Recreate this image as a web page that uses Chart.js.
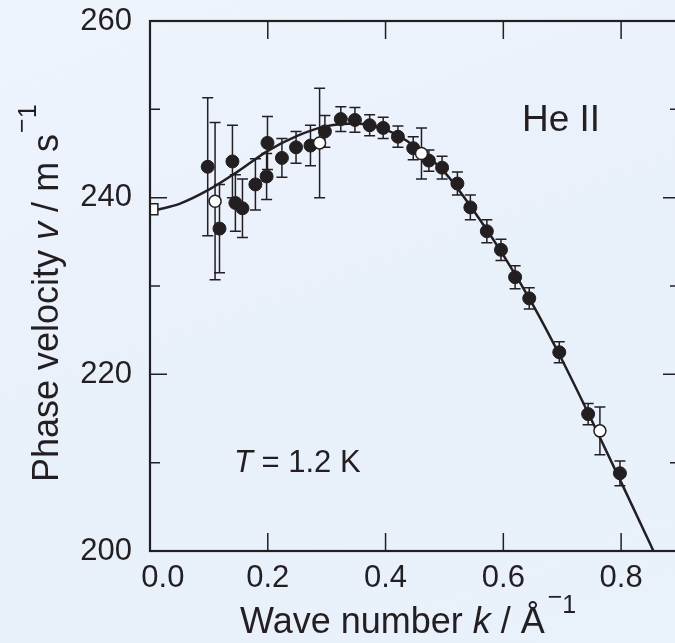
<!DOCTYPE html>
<html>
<head>
<meta charset="utf-8">
<script src="https://cdn.jsdelivr.net/npm/chart.js@4.4.1/dist/chart.umd.min.js"></script>
<style>
    html, body { margin: 0; padding: 0; overflow: hidden; }
    body {
        width: 675px;
        height: 643px;
        background: linear-gradient(160deg, #eef4fc 0%, #e8f0fa 55%, #e9f1fb 100%);
    }
    #wrap { position: absolute; left: 0; top: 0; width: 690px; height: 643px; }
</style>
</head>
<body>
<div id="wrap"><canvas id="myChart" width="690" height="643"></canvas></div>
<script>
'use strict'

// measured points (filled circles)
const filledK = [0.098, 0.118, 0.140, 0.145, 0.157, 0.179, 0.1995, 0.198, 0.224, 0.248, 0.2725, 0.297,
    0.324, 0.348, 0.373, 0.396, 0.421, 0.447, 0.4736, 0.496, 0.522, 0.544, 0.572, 0.596, 0.620, 0.644,
    0.695, 0.744, 0.798];
const filledV = [243.5, 236.5, 244.1, 239.4, 238.8, 241.5, 246.2, 242.4, 244.5, 245.7, 245.9, 247.5,
    248.9, 248.8, 248.2, 247.9, 246.9, 245.6, 244.2, 243.4, 241.6, 238.9, 236.2, 234.1, 231.0, 228.6,
    222.5, 215.5, 208.8];
const filledErr = [7.8, 5.0, 4.1, 3.2, 3.3, 2.9, 3.0, 2.6, 2.2, 1.8, 2.3, 1.8,
    1.4, 1.4, 1.2, 1.2, 1.2, 1.3, 1.2, 1.3, 1.3, 1.4, 1.3, 1.2, 1.3, 1.2,
    1.2, 1.2, 1.4];

// open circles
const openK = [0.1105, 0.288, 0.461, 0.764];
const openV = [239.6, 246.2, 245.0, 213.6];
const openErr = [8.9, 6.2, 2.9, 2.7];

// open square at k ~ 0
const squareK = [0.004];
const squareV = [238.7];

// solid curve
const curveK = [0.01, 0.05, 0.10, 0.15, 0.20, 0.25, 0.30, 0.35, 0.40, 0.45, 0.50, 0.55, 0.60, 0.65,
    0.70, 0.75, 0.80, 0.85, 0.87];
const curveV = [238.6, 239.3, 240.9, 243.0, 245.3, 247.0, 248.1, 248.4, 247.7, 245.8, 242.9, 238.5,
    233.5, 227.9, 221.6, 214.8, 207.8, 200.7, 197.8];

const kTicks = [0.0, 0.2, 0.4, 0.6, 0.8];
const vTicks = [200, 220, 240, 260];
const vMinorTicks = [210, 230, 250];

const ink = '#231f20';
const font = '"Liberation Sans", Arial, sans-serif';

function toPoints(xs, ys) {
    let pts = [];
    for (let i = 0; i < xs.length; i++) {
        pts.push({ x: xs[i], y: ys[i] });
    }
    return pts;
}

function drawRuns(ctx, x, y, runs) {
    for (let i = 0; i < runs.length; i++) {
        ctx.font = runs[i].font;
        ctx.fillText(runs[i].text, x, y + (runs[i].dy || 0));
        x += ctx.measureText(runs[i].text).width + (runs[i].gap || 0);
    }
}

const errorBars = {
    id: 'errorBars',
    beforeDatasetsDraw(chart) {
        const ctx = chart.ctx;
        const xs = chart.scales.x;
        const ys = chart.scales.y;
        const groups = [[filledK, filledV, filledErr], [openK, openV, openErr]];
        ctx.save();
        ctx.strokeStyle = ink;
        ctx.lineWidth = 1.5;
        groups.forEach(g => {
            for (let i = 0; i < g[0].length; i++) {
                let px = xs.getPixelForValue(g[0][i]);
                let top = ys.getPixelForValue(g[1][i] + g[2][i]);
                let bot = ys.getPixelForValue(g[1][i] - g[2][i]);
                ctx.beginPath();
                ctx.moveTo(px, top);
                ctx.lineTo(px, bot);
                ctx.moveTo(px - 5.5, top);
                ctx.lineTo(px + 5.5, top);
                ctx.moveTo(px - 5.5, bot);
                ctx.lineTo(px + 5.5, bot);
                ctx.stroke();
            }
        });
        ctx.restore();
    }
};

const frame = {
    id: 'frame',
    afterDraw(chart) {
        const ctx = chart.ctx;
        const a = chart.chartArea;
        const xs = chart.scales.x;
        const ys = chart.scales.y;
        ctx.save();
        ctx.strokeStyle = ink;
        ctx.lineWidth = 1.5;
        ctx.beginPath();
        kTicks.forEach(v => {
            let px = xs.getPixelForValue(v);
            ctx.moveTo(px, a.bottom);
            ctx.lineTo(px, a.bottom - 18);
            ctx.moveTo(px, a.top);
            ctx.lineTo(px, a.top + 18);
        });
        vTicks.forEach(v => {
            let py = ys.getPixelForValue(v);
            ctx.moveTo(a.left, py);
            ctx.lineTo(a.left + 17, py);
            ctx.moveTo(a.right, py);
            ctx.lineTo(a.right - 17, py);
        });
        vMinorTicks.forEach(v => {
            let py = ys.getPixelForValue(v);
            ctx.moveTo(a.left, py);
            ctx.lineTo(a.left + 10, py);
            ctx.moveTo(a.right, py);
            ctx.lineTo(a.right - 10, py);
        });
        ctx.stroke();

        ctx.lineWidth = 2.2;
        ctx.strokeRect(a.left, a.top, a.right - a.left, a.bottom - a.top);

        // text
        ctx.fillStyle = ink;
        ctx.textBaseline = 'alphabetic';
        ctx.textAlign = 'left';
        drawRuns(ctx, 522, 131, [{ text: 'He II', font: '37px ' + font }]);
        drawRuns(ctx, 234, 472, [
            { text: 'T', font: 'italic 31px ' + font },
            { text: ' = 1.2 K', font: '31px ' + font }
        ]);

        // x title
        drawRuns(ctx, 240, 633, [
            { text: 'Wave number ', font: '36px ' + font },
            { text: 'k', font: 'italic 36px ' + font },
            { text: ' / Å', font: '36px ' + font, gap: 3 },
            { text: '\u2212', font: '25px ' + font, dy: -28 },
            { text: '1', font: '25px ' + font, dy: -20 }
        ]);

        // y title
        ctx.translate(58, 482);
        ctx.rotate(-Math.PI / 2);
        drawRuns(ctx, 0, 0, [
            { text: 'Phase velocity ', font: '36px ' + font },
            { text: 'v', font: 'italic 36px ' + font },
            { text: ' / m s', font: '36px ' + font, gap: 1 },
            { text: '\u2212', font: '25px ' + font, dy: -28 },
            { text: '1', font: '25px ' + font, dy: -22 }
        ]);
        ctx.restore();
    }
};

const ctx = document.getElementById('myChart').getContext('2d');
const myChart = new Chart(ctx, {
    type: 'scatter',
    data: {
        datasets: [{
            label: 'open',
            data: toPoints(openK, openV),
            pointRadius: 6,
            pointBackgroundColor: '#ffffff',
            pointBorderColor: ink,
            pointBorderWidth: 1.5,
            clip: false,
            order: 0
        }, {
            label: 'filled',
            data: toPoints(filledK, filledV),
            pointRadius: 6.5,
            pointBackgroundColor: ink,
            pointBorderColor: ink,
            pointBorderWidth: 1,
            clip: false,
            order: 1
        }, {
            label: 'square',
            data: toPoints(squareK, squareV),
            pointStyle: 'rect',
            pointRadius: 7.8,
            pointBackgroundColor: '#ffffff',
            pointBorderColor: ink,
            pointBorderWidth: 1.5,
            order: 1
        }, {
            label: 'curve',
            data: toPoints(curveK, curveV),
            showLine: true,
            borderColor: ink,
            borderWidth: 2.5,
            pointRadius: 0,
            cubicInterpolationMode: 'monotone',
            order: 3
        }]
    },
    options: {
        responsive: false,
        animation: false,
        layout: { padding: { top: 21, right: 10, left: 0, bottom: 0 } },
        plugins: {
            legend: { display: false },
            tooltip: { enabled: false }
        },
        scales: {
            x: {
                type: 'linear',
                min: 0,
                max: 0.9,
                afterBuildTicks: s => { s.ticks = kTicks.map(v => ({ value: v })); },
                afterFit: s => { s.height = 92; s.paddingLeft = 0; s.paddingRight = 0; },
                grid: { display: false, drawTicks: false },
                border: { display: false },
                ticks: {
                    color: ink,
                    padding: 9,
                    maxRotation: 0,
                    font: { family: font, size: 31 },
                    callback: v => v === 0 ? '   0.0' : v.toFixed(1)
                }
            },
            y: {
                type: 'linear',
                min: 200,
                max: 260,
                afterBuildTicks: s => { s.ticks = vTicks.map(v => ({ value: v })); },
                afterFit: s => { s.width = 150; s.paddingTop = 0; s.paddingBottom = 0; },
                grid: { display: false, drawTicks: false },
                border: { display: false },
                ticks: {
                    color: ink,
                    padding: 18,
                    font: { family: font, size: 31 },
                    callback: v => String(v)
                }
            }
        }
    },
    plugins: [errorBars, frame]
});
</script>
</body>
</html>
